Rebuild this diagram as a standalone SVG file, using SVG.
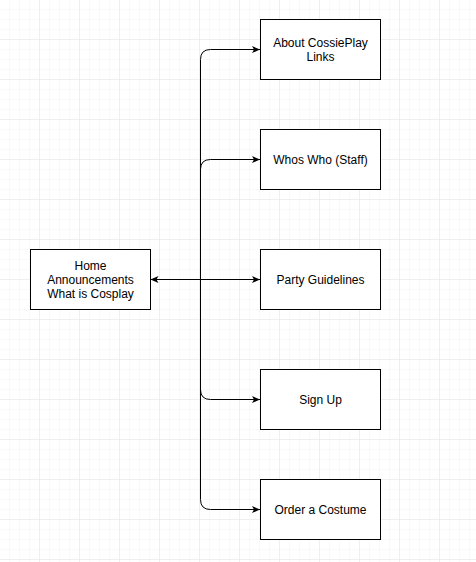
<svg xmlns="http://www.w3.org/2000/svg" width="476" height="562" viewBox="0 0 476 562">
<defs>
<pattern id="minor" width="10" height="10" patternUnits="userSpaceOnUse">
<path d="M10 0 V10 M0 10 H10" fill="none" stroke="#f2f2f2" stroke-width="1"/>
</pattern>
<pattern id="major" width="40" height="40" patternUnits="userSpaceOnUse">
<rect width="40" height="40" fill="url(#minor)"/>
<path d="M40 0 V40 M0 40 H40" fill="none" stroke="#e6e6e6" stroke-width="1"/>
</pattern>
<marker id="arr" markerUnits="userSpaceOnUse" markerWidth="10" markerHeight="8" refX="8" refY="3.5" orient="auto-start-reverse">
<path d="M0,0 L8,3.5 L0,7 L2,3.5 Z" fill="#000"/>
</marker>
</defs>
<style>
.box{fill:#fff;stroke:#000;stroke-width:1}
.lbl{font-family:"Liberation Sans",Arial,Helvetica,sans-serif;font-size:12px;fill:#000;text-anchor:middle}
.edge{fill:none;stroke:#000;stroke-width:1}
</style>
<rect x="0" y="0" width="476" height="562" fill="#fff"/>
<rect x="-0.5" y="-0.5" width="477" height="563" fill="url(#major)"/>
<g id="connectors">
<path class="edge" d="M150.5 279.5 H200.5 V59.5 Q200.5 49.5 210.5 49.5 H260" marker-start="url(#arr)" marker-end="url(#arr)"/>
<path class="edge" d="M200.5 279.5 V169.5 Q200.5 159.5 210.5 159.5 H260" marker-end="url(#arr)"/>
<path class="edge" d="M200.5 279.5 H260" marker-end="url(#arr)"/>
<path class="edge" d="M200.5 279.5 V389.5 Q200.5 399.5 210.5 399.5 H260" marker-end="url(#arr)"/>
<path class="edge" d="M200.5 279.5 V499.5 Q200.5 509.5 210.5 509.5 H260" marker-end="url(#arr)"/>
</g>
<g id="home">
<rect class="box" x="30.5" y="249.5" width="120" height="60"/>
<text class="lbl" x="90.5" y="270">Home</text>
<text class="lbl" x="90.5" y="284">Announcements</text>
<text class="lbl" x="90.5" y="298">What is Cosplay</text>
</g>
<g id="about">
<rect class="box" x="260.5" y="19.5" width="120" height="60"/>
<text class="lbl" x="320.5" y="47">About CossiePlay</text>
<text class="lbl" x="320.5" y="61">Links</text>
</g>
<g id="whoswho">
<rect class="box" x="260.5" y="129.5" width="120" height="60"/>
<text class="lbl" x="320.5" y="164">Whos Who (Staff)</text>
</g>
<g id="party">
<rect class="box" x="260.5" y="249.5" width="120" height="60"/>
<text class="lbl" x="320.5" y="284">Party Guidelines</text>
</g>
<g id="signup">
<rect class="box" x="260.5" y="369.5" width="120" height="60"/>
<text class="lbl" x="320.5" y="404">Sign Up</text>
</g>
<g id="order">
<rect class="box" x="260.5" y="479.5" width="120" height="60"/>
<text class="lbl" x="320.5" y="514">Order a Costume</text>
</g>
</svg>
